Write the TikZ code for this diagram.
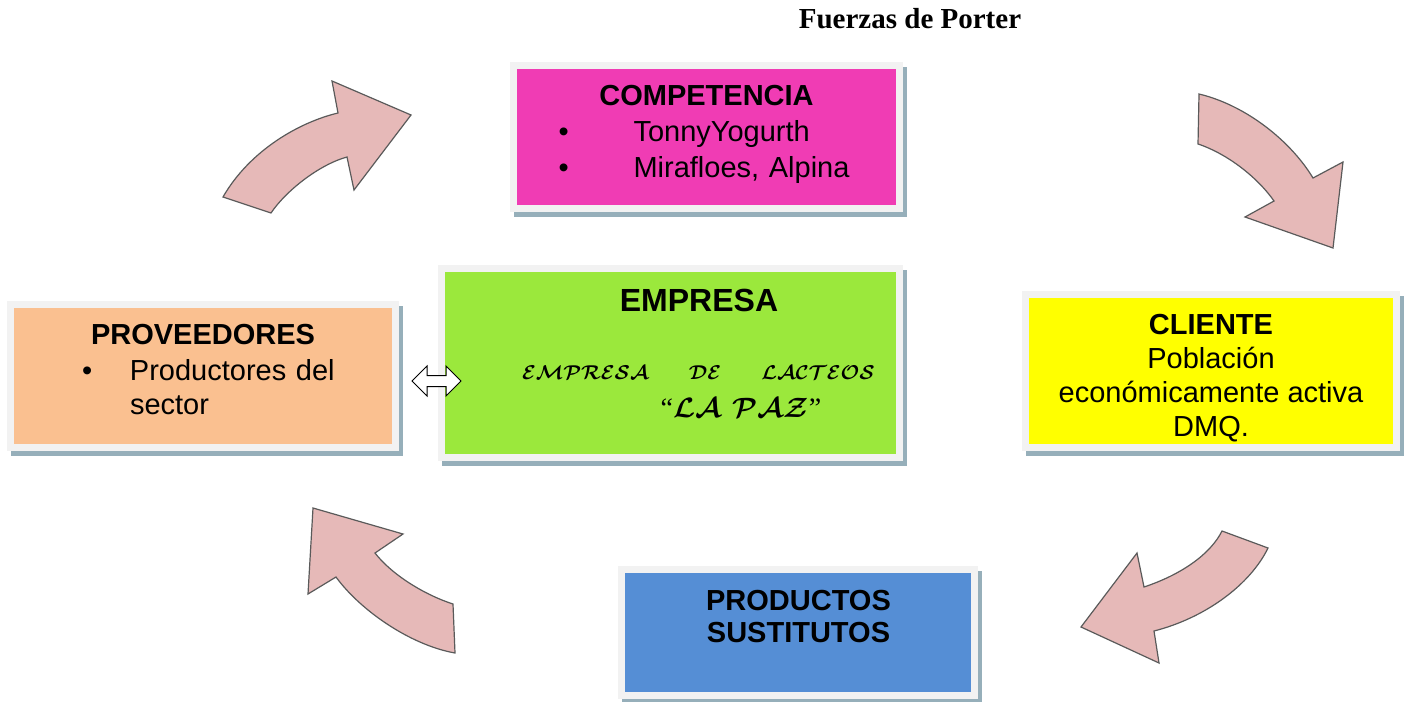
\documentclass[tikz,border=0pt]{standalone}
\usepackage{fix-cm}
\usepackage{fontspec}
\setmainfont{Liberation Serif}
\newfontfamily\arial{Liberation Sans}
\usepackage{tikz}
\usetikzlibrary{arrows,positioning,shapes,shadows}

\definecolor{framegray}{HTML}{F2F2F2}
\definecolor{shadowblue}{RGB}{150,175,186}
\definecolor{compcol}{HTML}{F03CB4}
\definecolor{provcol}{HTML}{FAC090}
\definecolor{empcol}{HTML}{9BE83C}
\definecolor{clicol}{HTML}{FFFF00}
\definecolor{prodcol}{HTML}{558ED5}
\definecolor{curvcol}{HTML}{E6B9B8}
\definecolor{curvline}{HTML}{5A5A5A}

\newcommand\bul[1]{\makebox[#1][l]{\textbullet}}

\begin{document}
\begin{tikzpicture}[x=1pt,y=1pt,
          force/.style={draw=framegray,line width=7pt,inner sep=0,
            general shadow={fill=shadowblue,draw=shadowblue,line width=7pt,shadow xshift=4pt,shadow yshift=-5pt}},
          txt/.style={font=\arial\fontsize{29}{34}\selectfont,text height=21pt,text depth=6pt,inner sep=0},
          head/.style={txt,font=\arial\bfseries\fontsize{29}{34}\selectfont},
          item/.style={txt,text width=296pt,align=left},
          script/.style={font=\fontsize{20}{24}\selectfont\boldmath,inner sep=0,anchor=base},
          dbl/.style={double arrow,draw=black,fill=white,line width=1pt,double arrow head extend=9.5pt,
            minimum width=29pt,minimum height=49pt,inner xsep=0pt,inner ysep=5pt},
          curv/.style={fill=curvcol,draw=curvline,line width=1.2pt},
          node distance=36
        ]
        \useasboundingbox (0,0) rectangle (1407,-701);

        %title
        \node[font=\bfseries\fontsize{29}{34}\selectfont,anchor=base] (title) at (910,-29) {Fuerzas de Porter};

        %boxes
        \node[force,fill=compcol,minimum width=386pt,minimum height=143pt] (comp) at (706.5,-137) {};
        \node[force,fill=provcol,minimum width=385pt,minimum height=143pt] (prov) at (203,-376) {};
        \node[force,fill=empcol,minimum width=458pt,minimum height=189pt] (emp) at (670.5,-363) {};
        \node[force,fill=clicol,minimum width=371pt,minimum height=153pt] (cli) at (1211,-371) {};
        \node[force,fill=prodcol,minimum width=353pt,minimum height=126pt] (prod) at (798,-632.5) {};

        %competencia
        \node[head] (comp-t) at (706.5,-97.5) {COMPETENCIA};
        \node[item,below of=comp-t] (comp-1) {\bul{75pt}TonnyYogurth};
        \node[item,below of=comp-1] (comp-2) {\bul{75pt}Mirafloes, Alpina};

        %proveedores
        \node[head] (prov-t) at (203,-336.5) {PROVEEDORES};
        \node[item,text width=260pt,below of=prov-t,xshift=9pt] (prov-1) {\bul{48pt}Productores del};
        \node[item,text width=260pt,below of=prov-1,node distance=34] (prov-2) {\makebox[48pt]{}sector};

        %empresa
        \node[head,font=\arial\bfseries\fontsize{32}{36}\selectfont] (emp-t) at (699,-303.5) {EMPRESA};
        \node[script] (emp-1) at (698.5,-379) {\makebox[353pt]{$\mathcal{EMPRESA}$\hfill$\mathcal{DE}$\hfill$\mathcal{LACTEOS}$}};
        \node[script,font=\fontsize{28}{32}\selectfont\boldmath] (emp-2) at (741,-417) {“$\mathcal{LA}$\hspace{12pt}$\mathcal{PAZ}$”};

        %cliente
        \node[head] (cli-t) at (1211,-326.5) {CLIENTE};
        \node[txt,below of=cli-t,node distance=34] (cli-1) {Población};
        \node[txt,below of=cli-1,node distance=34] (cli-2) {económicamente activa};
        \node[txt,below of=cli-2,node distance=34] (cli-3) {DMQ.};

        %sustitutos
        \node[head] (prod-t) at (798.5,-602.5) {PRODUCTOS};
        \node[head,below of=prod-t,node distance=32] (prod-t2) {SUSTITUTOS};

        %link
        \node[dbl] (link) at (436.5,-381) {};

        %cycle arrows
        \draw[curv] (223,-197) -- (271,-213) .. controls (285,-192) and (318,-165) .. (347,-157)
          -- (354,-190) -- (411,-115) -- (332,-81) -- (338,-113)
          .. controls (300,-122) and (250,-150) .. (223,-197) -- cycle;
        \draw[curv] (1199,-94) -- (1198,-144) .. controls (1228,-154) and (1258,-178) .. (1274,-201)
          -- (1245,-217) -- (1333,-248) -- (1343,-162) -- (1313,-178)
          .. controls (1290,-140) and (1245,-105) .. (1199,-94) -- cycle;
        \draw[curv] (1222,-531) -- (1268,-548) .. controls (1250,-585) and (1205,-618) .. (1154,-631)
          -- (1159,-663) -- (1081,-627) -- (1137,-553) -- (1144,-587)
          .. controls (1180,-575) and (1210,-555) .. (1222,-531) -- cycle;
        \draw[curv] (455,-653) -- (453,-604) .. controls (425,-595) and (392,-575) .. (375,-553)
          -- (403,-534) -- (313,-508) -- (308,-594) -- (336,-577)
          .. controls (360,-610) and (410,-645) .. (455,-653) -- cycle;
    \end{tikzpicture}
\end{document}
